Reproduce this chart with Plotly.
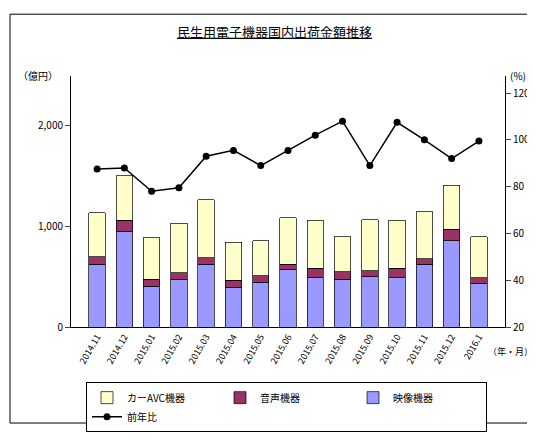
import plotly.graph_objects as go

months = ["2014.11","2014.12","2015.01","2015.02","2015.03","2015.04","2015.05","2015.06",
          "2015.07","2015.08","2015.09","2015.10","2015.11","2015.12","2016.1"]
video = [623,943,406,472,623,396,443,566,490,472,500,490,623,858,434]
audio = [75,114,66,66,66,66,66,57,95,75,57,95,56,114,57]
car_avc = [434,443,415,490,575,378,349,462,472,349,509,472,463,434,405]
yoy = [87.5,88,78,79.5,93,95.5,89,95.5,102,108,89,107.5,100,92,99.5]

W, H = 533, 436
L, R, T, B = 63, W - 497, 68, H - 332
pw, ph = W - L - R, H - T - B
font = "Noto Sans CJK JP"

fig = go.Figure()
fig.add_bar(x=months, y=video, name="映像機器", marker=dict(color="#9999FF", line=dict(color="black", width=0.7)), legendrank=3, width=0.6)
fig.add_bar(x=months, y=audio, name="音声機器", marker=dict(color="#993366", line=dict(color="black", width=0.7)), legendrank=2, width=0.6)
fig.add_bar(x=months, y=car_avc, name="カーAVC機器", marker=dict(color="#FFFFCC", line=dict(color="black", width=0.7)), legendrank=1, width=0.6)
fig.add_scatter(x=months, y=yoy, name="前年比", yaxis="y2", mode="lines+markers",
                line=dict(color="black", width=1.5), marker=dict(color="black", size=7), legendrank=4)

def px(x): return (x - L) / pw
def py(y): return (H - B - y) / ph

fig.update_layout(
    width=W, height=H, margin=dict(l=L, r=R, t=T, b=B),
    barmode="stack", plot_bgcolor="white", paper_bgcolor="white",
    font=dict(family=font, size=10, color="black"),
    title=dict(text="<u>民生用電子機器国内出荷金額推移</u>", x=0.5, xanchor="center", y=0.955, yanchor="top", font=dict(size=13)),
    xaxis=dict(tickangle=-60, showline=True, linecolor="black", ticks="", tickfont=dict(size=9)),
    yaxis=dict(range=[0, 2490], tickvals=[0, 1000, 2000], ticktext=["0", "1,000", "2,000"],
               showline=True, linecolor="black", ticks="outside", showgrid=False, zeroline=False),
    yaxis2=dict(range=[20, 127.3], tickvals=[20,40,60,80,100,120], overlaying="y", side="right",
                showline=True, linecolor="black", ticks="outside", showgrid=False, zeroline=False),
    legend=dict(orientation="h", x=px(78), y=py(390), xanchor="left", yanchor="top", traceorder="normal",
                bordercolor="black", borderwidth=1, font=dict(size=10), entrywidth=88),
    shapes=[dict(type="rect", xref="paper", yref="paper", x0=px(2), x1=px(W - 3), y0=py(H - 3), y1=py(3),
                 line=dict(color="black", width=1))],
    annotations=[
        dict(text="（億円）", xref="paper", yref="paper", x=px(8), y=py(58), xanchor="left", showarrow=False),
        dict(text="(%)", xref="paper", yref="paper", x=px(510), y=py(58), xanchor="center", showarrow=False),
        dict(text="（年・月）", xref="paper", yref="paper", x=px(W - 6), y=py(367), xanchor="right", showarrow=False, font=dict(size=9)),
    ],
)
fig.write_html("out.html")
